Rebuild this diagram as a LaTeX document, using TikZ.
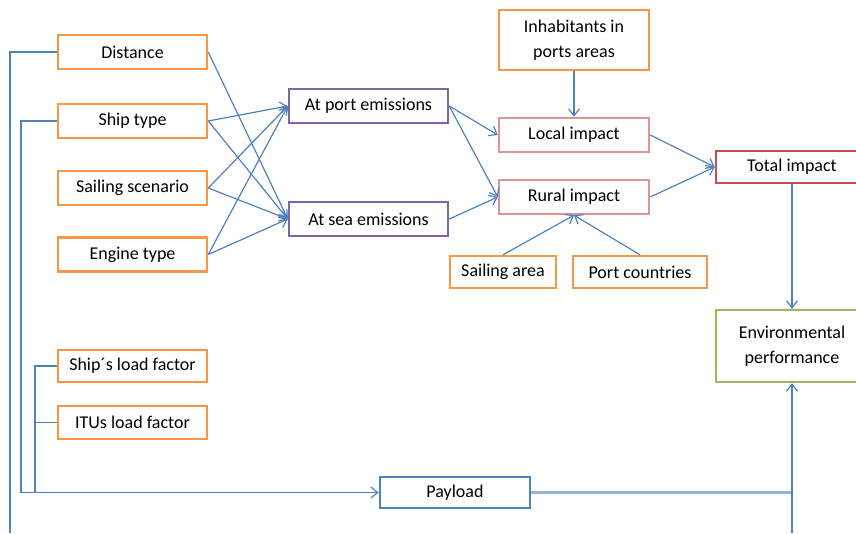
\documentclass[tikz,border=0pt]{standalone}
\usepackage{fontspec}
\setmainfont{Carlito}
\usetikzlibrary{arrows.meta}
\definecolor{inorange}{HTML}{F79646}
\definecolor{empurple}{HTML}{8064A2}
\definecolor{imppink}{HTML}{D99694}
\definecolor{totred}{HTML}{C0504D}
\definecolor{envgreen}{HTML}{9BBB59}
\definecolor{payblue}{HTML}{4F81BD}
\definecolor{linkblue}{HTML}{4F81BD}
\definecolor{paylight}{HTML}{95B3D7}
\begin{document}
\begin{tikzpicture}[
    x=1pt,y=-1pt,
    font=\fontsize{18}{25.5}\selectfont,
    box/.style={rectangle,draw,line width=2.5pt,fill=white,inner sep=2pt,align=center,minimum height=34pt},
    inbox/.style={box,draw=inorange,minimum width=149pt},
    embox/.style={box,draw=empurple,minimum width=159pt},
    impbox/.style={box,draw=imppink,minimum width=150pt},
    totbox/.style={box,draw=totred,minimum width=152pt,minimum height=32pt},
    envbox/.style={box,draw=envgreen,minimum width=152pt,minimum height=72pt},
    paybox/.style={box,draw=payblue,minimum width=150pt,minimum height=31pt},
    link/.style={draw=linkblue,line width=1.2pt,-{Straight Barb[length=7pt,width=11pt]}},
    feed/.style={draw=linkblue,line width=1.2pt}
]
    \clip (0,0) rectangle (856,533);
    \useasboundingbox (0,0) rectangle (856,533);

    % inputs on the left
    \node[inbox] (dist) at (132.5,52) {Distance};
    \node[inbox] (ship) at (132.5,121) {Ship type};
    \node[inbox] (sail) at (132.5,188) {Sailing scenario};
    \node[inbox] (eng) at (132.5,254.5) {Engine type};
    \node[inbox,minimum height=32pt] (shiplf) at (132.5,366) {Ship´s load factor};
    \node[inbox,minimum height=33pt] (itulf) at (132.5,422.5) {ITUs load factor};

    % emissions
    \node[embox] (port) at (368.5,106) {At port emissions};
    \node[embox] (sea) at (368.5,219) {At sea emissions};

    % impacts
    \node[inbox,minimum width=150pt,minimum height=60pt] (inhab) at (574,40) {Inhabitants in\\ports areas};
    \node[impbox] (local) at (574,135) {Local impact};
    \node[impbox] (rural) at (574,197) {Rural impact};
    \node[inbox,minimum width=106pt,minimum height=32pt] (area) at (503,272) {Sailing area};
    \node[inbox,minimum width=134pt,minimum height=32pt] (ctry) at (640,272) {Port countries};
    \node[totbox] (total) at (792,167) {Total impact};
    \node[envbox] (env) at (792,346) {Environmental\\performance};
    \node[paybox] (pay) at (455,492.5) {Payload};

    % emissions from inputs
    \draw[link] (dist.east) -- (sea.west);
    \draw[link] (ship.east) -- (port.west);
    \draw[link] (ship.east) -- (sea.west);
    \draw[link] (sail.east) -- (port.west);
    \draw[link] (sail.east) -- (sea.west);
    \draw[link] (eng.east) -- (port.west);
    \draw[link] (eng.east) -- (sea.west);

    % impacts
    \draw[link] (port.east) -- (local.west);
    \draw[link] (port.east) -- (rural.west);
    \draw[link] (sea.east) -- (rural.west);
    \draw[link] (inhab.south) -- (local.north);
    \draw[link] (area.north) -- (rural.south);
    \draw[link] (ctry.north) -- (rural.south);
    \draw[link] (local.east) -- (total.west);
    \draw[link] (rural.east) -- (total.west);
    \draw[link] (total.south) -- (env.north);

    % payload feed
    \coordinate (distend) at (10,533);
    \coordinate (envfoot) at (792,533);
    \draw[feed] (dist.west) -| (distend);
    \draw[link] (ship.west) -- (21,121) |- (pay.west);
    \draw[feed] (shiplf.west) -| (35,493);
    \draw[feed] (itulf.west) -- (35,422.5);
    \draw[draw=paylight,line width=2.5pt] (pay.east) -- (792,492.5);
    \draw[link] (envfoot) -- (env.south);
\end{tikzpicture}
\end{document}
